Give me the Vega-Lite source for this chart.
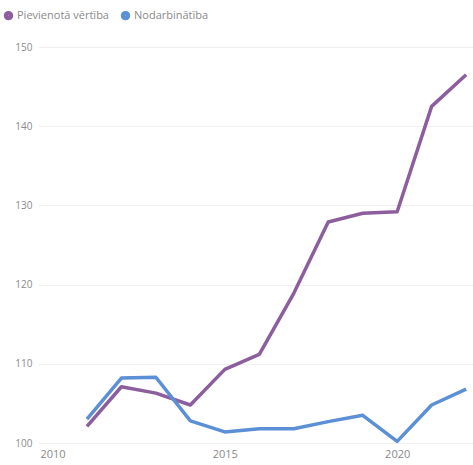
{
  "$schema": "https://vega.github.io/schema/vega-lite/v6.json",
  "width": 435,
  "height": 396,
  "autosize": {"type": "none"},
  "padding": {"left": 38, "top": 47, "right": 0, "bottom": 22},
  "background": "white",
  "config": {
    "view": {"stroke": null},
    "font": "Open Sans",
    "axis": {"labelColor": "#8a8a8a", "labelFontSize": 11, "labelFont": "Open Sans", "gridColor": "#f0f0f0", "gridWidth": 1, "domain": false, "ticks": false, "title": null}
  },
  "data": {
    "values": [
      {"year": 2011, "series": "Pievienotā vērtība", "value": 102.1},
      {"year": 2012, "series": "Pievienotā vērtība", "value": 107.1},
      {"year": 2013, "series": "Pievienotā vērtība", "value": 106.3},
      {"year": 2014, "series": "Pievienotā vērtība", "value": 104.8},
      {"year": 2015, "series": "Pievienotā vērtība", "value": 109.3},
      {"year": 2016, "series": "Pievienotā vērtība", "value": 111.2},
      {"year": 2017, "series": "Pievienotā vērtība", "value": 118.9},
      {"year": 2018, "series": "Pievienotā vērtība", "value": 127.9},
      {"year": 2019, "series": "Pievienotā vērtība", "value": 129.0},
      {"year": 2020, "series": "Pievienotā vērtība", "value": 129.2},
      {"year": 2021, "series": "Pievienotā vērtība", "value": 142.5},
      {"year": 2022, "series": "Pievienotā vērtība", "value": 146.5},
      {"year": 2011, "series": "Nodarbinātība", "value": 103.0},
      {"year": 2012, "series": "Nodarbinātība", "value": 108.2},
      {"year": 2013, "series": "Nodarbinātība", "value": 108.3},
      {"year": 2014, "series": "Nodarbinātība", "value": 102.8},
      {"year": 2015, "series": "Nodarbinātība", "value": 101.4},
      {"year": 2016, "series": "Nodarbinātība", "value": 101.8},
      {"year": 2017, "series": "Nodarbinātība", "value": 101.8},
      {"year": 2018, "series": "Nodarbinātība", "value": 102.7},
      {"year": 2019, "series": "Nodarbinātība", "value": 103.5},
      {"year": 2020, "series": "Nodarbinātība", "value": 100.2},
      {"year": 2021, "series": "Nodarbinātība", "value": 104.8},
      {"year": 2022, "series": "Nodarbinātība", "value": 106.8}
    ]
  },
  "mark": {"type": "line", "strokeWidth": 3.5, "strokeJoin": "round", "clip": false},
  "encoding": {
    "x": {
      "field": "year", "type": "quantitative",
      "scale": {"domain": [2009.58, 2022.2], "nice": false, "zero": false},
      "axis": {"values": [2010, 2015, 2020], "format": "d", "grid": false, "labelPadding": 5, "labelFlush": false}
    },
    "y": {
      "field": "value", "type": "quantitative",
      "scale": {"domain": [100, 150], "nice": false, "zero": false},
      "axis": {"values": [100, 110, 120, 130, 140, 150], "labelPadding": 6, "labelFontSize": 10}
    },
    "color": {
      "field": "series", "type": "nominal",
      "scale": {"domain": ["Pievienotā vērtība", "Nodarbinātība"], "range": ["#8c5e9e", "#5b8fd6"]},
      "legend": {
        "title": null, "orient": "none", "direction": "horizontal",
        "legendX": -35, "legendY": -37,
        "symbolType": "circle", "symbolSize": 20, "symbolStrokeWidth": 5, "symbolOpacity": 1,
        "labelColor": "#8a8a8a", "labelFontSize": 11, "labelFont": "Open Sans",
        "columnPadding": 4, "labelOffset": 3
      }
    },
    "order": {"field": "series", "sort": "descending"}
  }
}
